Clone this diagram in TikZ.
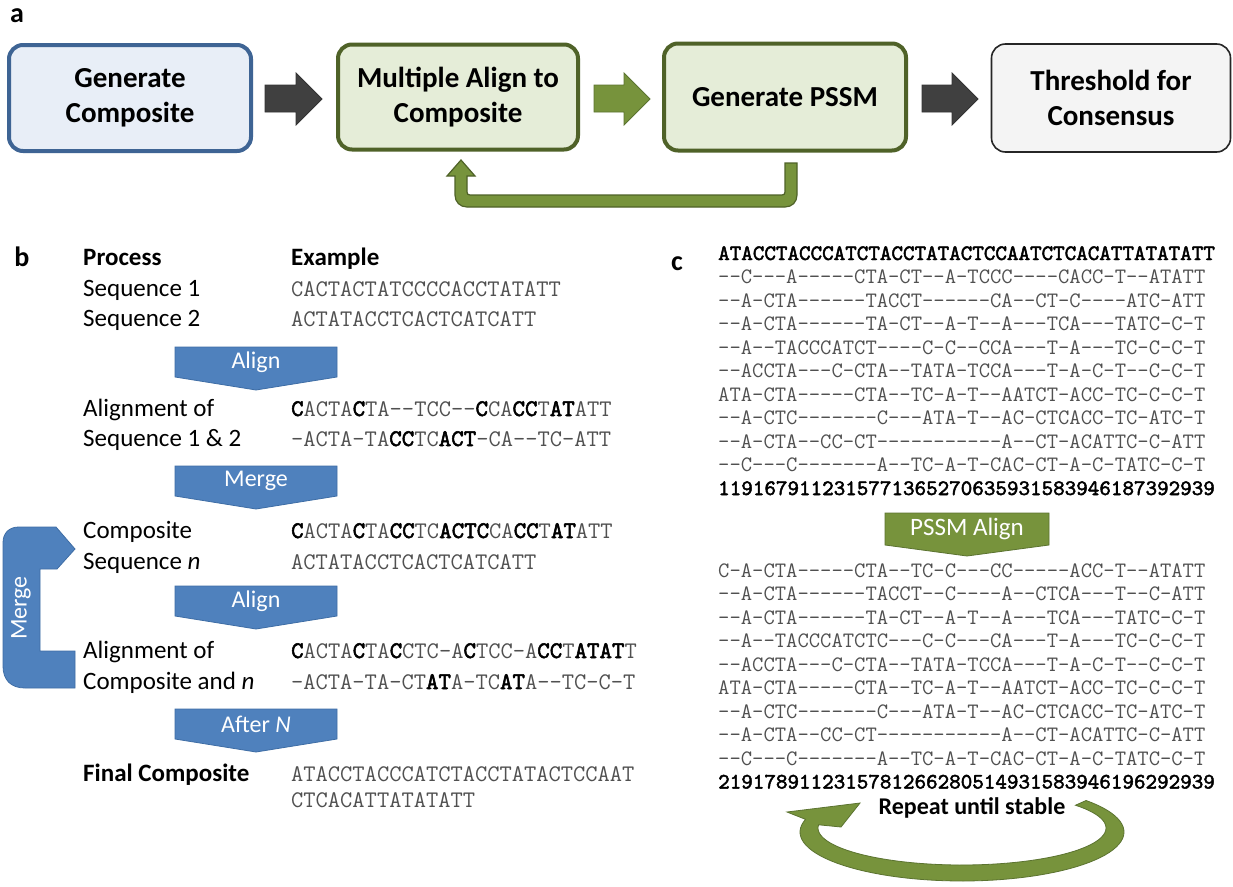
\documentclass[tikz,border=0pt]{standalone}
\usepackage{fontspec}
\setmainfont{Carlito}
\newfontfamily\seqbf{lmmono10-regular.otf}[FakeBold=2.2]
\usetikzlibrary{calc}

\definecolor{boxblue}{HTML}{3E6494}
\definecolor{boxbluefill}{HTML}{E8EEF7}
\definecolor{boxgreen}{HTML}{4F6228}
\definecolor{boxgreenfill}{HTML}{E5EDD8}
\definecolor{boxgrayfill}{HTML}{F4F4F4}
\definecolor{arrowgreen}{HTML}{77933C}
\definecolor{arrowgreenline}{HTML}{5B7330}
\definecolor{arrowblue}{HTML}{4F81BD}
\definecolor{arrowblueline}{HTML}{3E6DA5}
\definecolor{darkarrow}{HTML}{404040}
\definecolor{seqgray}{HTML}{505050}

% bold black residue inside a grey sequence
\newcommand{\hl}[1]{{\seqbf\color{black}#1}}
% downward block arrow: style, left x, right x, top y, body bottom y, tip y
\newcommand{\pentadown}[6]{%
  \filldraw[#1] (#2,#4) -- (#3,#4) -- (#3,#5) -- ({(#2+#3)/2},#6) -- (#2,#5) -- cycle;}
% rightward block arrow: style, left x, head base x, tip x
\newcommand{\blockright}[4]{%
  \filldraw[#1] (#2,85) -- (#3,85) -- (#3,73) -- (#4,99) -- (#3,125) -- (#3,112) -- (#2,112) -- cycle;}

\begin{document}
\begin{tikzpicture}[x=1pt,y=-1pt,
  panel/.style={font=\bfseries\fontsize{28}{28}\selectfont, inner sep=0, anchor=base},
  flowbox/.style={rounded corners=14pt, line width=4pt, align=center, inner sep=0,
    font=\bfseries\fontsize{29}{35}\selectfont},
  bluebox/.style={flowbox, draw=boxblue, fill=boxbluefill},
  greenbox/.style={flowbox, draw=boxgreen, fill=boxgreenfill},
  graybox/.style={flowbox, line width=1.6pt, draw=black!85, fill=boxgrayfill},
  darkblock/.style={fill=darkarrow, draw=black!80, line width=0.8pt},
  greenblock/.style={fill=arrowgreen, draw=arrowgreenline, line width=0.8pt},
  blueblock/.style={fill=arrowblue, draw=arrowblueline, line width=0.8pt},
  lbl/.style={font=\fontsize{25}{25}\selectfont, anchor=west, inner sep=0,
    text height=0.62em, text depth=0pt},
  blbl/.style={lbl, font=\bfseries\fontsize{25}{25}\selectfont},
  seqb/.style={font=\ttfamily\fontsize{23.8}{23.8}\selectfont, text=seqgray, anchor=west,
    inner sep=0, text height=0.6em, text depth=0pt},
  seqc/.style={font=\ttfamily\fontsize{22}{22}\selectfont, text=seqgray, anchor=west,
    inner sep=0, text height=0.6em, text depth=0pt},
  seqcb/.style={seqc, text=black, font=\seqbf\fontsize{22}{22}\selectfont},
  arrowtxt/.style={text=white, inner sep=0, font=\fontsize{24}{24}\selectfont}
]
\useasboundingbox (0,0) rectangle (1233,886);
\fill[white] (0,0) rectangle (1233,886);

% ---------------- panel a: pipeline ----------------
\node[panel] (la) at (17,23) {a};
\node[bluebox, minimum width=242pt, minimum height=106pt] (gen) at (130,98) {Generate\\Composite};
\node[greenbox, minimum width=240pt, minimum height=105pt] (mult) at (458,97) {Multiple Align to\\Composite};
\node[greenbox, minimum width=242pt, minimum height=107pt] (pssm) at (785,97) {Generate PSSM};
\node[graybox, minimum width=239pt, minimum height=108pt] (thr) at (1111,98) {Threshold for\\Consensus};

\blockright{darkblock}{265}{296}{322}
\blockright{greenblock}{594}{624}{650}
\blockright{darkblock}{922}{952}{978}

% feedback loop from PSSM back to the alignment step
\filldraw[fill=arrowgreen, draw=boxgreen, line width=1.2pt]
  (797,163) -- (797,195) .. controls (797,202) and (792,207) .. (785,207)
  -- (467,207) .. controls (460,207) and (455,202) .. (455,195)
  -- (455,176) -- (447,176) -- (461,160) -- (475,176) -- (467,176)
  -- (467,192) .. controls (467,194) and (468,195) .. (470,195)
  -- (782,195) .. controls (784,195) and (785,194) .. (785,192)
  -- (785,163) -- cycle;

% ---------------- panel b: composite building ----------------
\node[panel] (lb) at (22,266) {b};
\node[blbl] (hproc) at (83,262) {Process};
\node[blbl] (hex) at (291,262) {Example};

\node[lbl] (p1) at (83,293) {Sequence 1};
\node[seqb] (e1) at (291,293) {CACTACTATCCCCACCTATATT};
\node[lbl] (p2) at (83,323) {Sequence 2};
\node[seqb] (e2) at (291,323) {ACTATACCTCACTCATCATT};

\pentadown{blueblock}{175}{337}{347}{377}{390}
\node[arrowtxt] (talign1) at (256,362) {Align};

\node[lbl] (p3) at (83,413) {Alignment of};
\node[seqb] (e3) at (291,413) {\hl{C}ACTA\hl{C}TA--TCC--\hl{C}CA\hl{CC}T\hl{AT}ATT};
\node[lbl] (p4) at (83,443) {Sequence 1 \& 2};
\node[seqb] (e4) at (291,443) {-ACTA-TA\hl{CC}TC\hl{ACT}-CA--TC-ATT};

\pentadown{blueblock}{175}{337}{466}{496}{509}
\node[arrowtxt] (tmerge) at (256,481) {Merge};

\node[lbl] (p5) at (83,535) {Composite};
\node[seqb] (e5) at (291,535) {\hl{C}ACTA\hl{C}TA\hl{CC}TC\hl{ACTC}CA\hl{CC}T\hl{AT}ATT};
\node[lbl] (p6) at (83,566) {Sequence \textit{n}};
\node[seqb] (e6) at (291,566) {ACTATACCTCACTCATCATT};

\pentadown{blueblock}{175}{337}{586}{616}{629}
\node[arrowtxt] (talign2) at (256,601) {Align};

\node[lbl] (p7) at (83,655) {Alignment of};
\node[seqb] (e7) at (291,655) {\hl{C}ACTA\hl{C}TA\hl{C}CTC-A\hl{C}TCC-A\hl{CC}T\hl{ATAT}T};
\node[lbl] (p8) at (83,686) {Composite and \textit{n}};
\node[seqb] (e8) at (291,686) {-ACTA-TA-CT\hl{AT}A-TC\hl{AT}A--TC-C-T};

\pentadown{blueblock}{175}{337}{709}{739}{752}
\node[arrowtxt] (tafter) at (256,724) {After \textit{N}};

\node[blbl] (p9) at (83,778) {Final Composite};
\node[seqb] (e9) at (291,778) {ATACCTACCCATCTACCTATACTCCAAT};
\node[seqb] (e10) at (291,804) {CTCACATTATATATT};

% merge bracket feeding the composite back in
\filldraw[blueblock]
  (3,543) .. controls (3,533) and (9,527) .. (19,527) -- (56,527) -- (75,549)
  -- (57,569) -- (40,569) -- (40,651) -- (75,651) -- (75,688) -- (25,688)
  .. controls (11,688) and (3,680) .. (3,666) -- cycle;
\node[arrowtxt, rotate=90] (tmergeb) at (21,608) {Merge};

% ---------------- panel c: PSSM refinement ----------------
\node[panel] (lc) at (677,270) {c};
\node[seqcb] (c0) at (718,257.0) {ATACCTACCCATCTACCTATACTCCAATCTCACATTATATATT};
\node[seqc] (c1) at (718,280.5) {--C---A-----CTA-CT--A-TCCC----CACC-T--ATATT};
\node[seqc] (c2) at (718,304.0) {--A-CTA------TACCT------CA--CT-C----ATC-ATT};
\node[seqc] (c3) at (718,327.5) {--A-CTA------TA-CT--A-T--A---TCA---TATC-C-T};
\node[seqc] (c4) at (718,351.0) {--A--TACCCATCT----C-C--CCA---T-A---TC-C-C-T};
\node[seqc] (c5) at (718,374.5) {--ACCTA---C-CTA--TATA-TCCA---T-A-C-T--C-C-T};
\node[seqc] (c6) at (718,398.0) {ATA-CTA-----CTA--TC-A-T--AATCT-ACC-TC-C-C-T};
\node[seqc] (c7) at (718,421.5) {--A-CTC-------C---ATA-T--AC-CTCACC-TC-ATC-T};
\node[seqc] (c8) at (718,445.0) {--A-CTA--CC-CT-----------A--CT-ACATTC-C-ATT};
\node[seqc] (c9) at (718,468.5) {--C---C-------A--TC-A-T-CAC-CT-A-C-TATC-C-T};
\node[seqcb] (cn) at (718,492.0) {1191679112315771365270635931583946187392939};

\pentadown{greenblock}{885}{1049}{513}{545}{556}
\node[arrowtxt, font=\fontsize{25}{25}\selectfont] (tpssm) at (967,529) {PSSM Align};

\node[seqc] (d1) at (718,574.0) {C-A-CTA-----CTA--TC-C---CC-----ACC-T--ATATT};
\node[seqc] (d2) at (718,597.5) {--A-CTA------TACCT--C----A--CTCA---T--C-ATT};
\node[seqc] (d3) at (718,621.0) {--A-CTA------TA-CT--A-T--A---TCA---TATC-C-T};
\node[seqc] (d4) at (718,644.5) {--A--TACCCATCTC---C-C---CA---T-A---TC-C-C-T};
\node[seqc] (d5) at (718,668.0) {--ACCTA---C-CTA--TATA-TCCA---T-A-C-T--C-C-T};
\node[seqc] (d6) at (718,691.5) {ATA-CTA-----CTA--TC-A-T--AATCT-ACC-TC-C-C-T};
\node[seqc] (d7) at (718,715.0) {--A-CTC-------C---ATA-T--AC-CTCACC-TC-ATC-T};
\node[seqc] (d8) at (718,738.5) {--A-CTA--CC-CT-----------A--CT-ACATTC-C-ATT};
\node[seqc] (d9) at (718,762.0) {--C---C-------A--TC-A-T-CAC-CT-A-C-TATC-C-T};
\node[seqcb] (dn) at (718,785.5) {2191789112315781266280514931583946196292939};

% circular "repeat" arrow
\filldraw[fill=arrowgreen, draw=arrowgreenline, line width=0.8pt]
  plot[domain=-40:195, samples=70, variable=\t] ({962+162*cos(\t)},{832+49*sin(\t)})
  -- (787,812) -- (860,803) -- (841,827)
  -- plot[domain=185:-38, samples=70, variable=\t] ({962+144*cos(\t)},{828+37*sin(\t)})
  -- cycle;
\node[inner sep=0, font=\bfseries\fontsize{24}{24}\selectfont] (rep) at (972,808) {Repeat until stable};

\end{tikzpicture}
\end{document}
